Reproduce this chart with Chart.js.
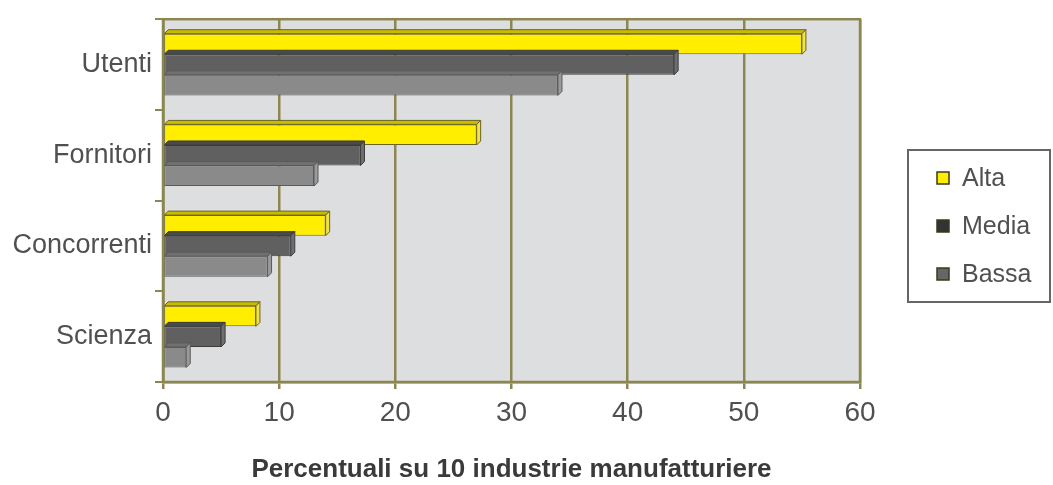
<!DOCTYPE html>
<html>
<head>
<meta charset="utf-8">
<script src="https://cdn.jsdelivr.net/npm/chart.js@4"></script>
<style>
  html, body { margin: 0; padding: 0; background: #ffffff; }
  #wrap { width: 1053px; height: 485px; position: relative; }
</style>
</head>
<body>
<div id="wrap"><canvas id="chart" width="1053" height="485"></canvas></div>
<script>
const categories = ['Utenti', 'Fornitori', 'Concorrenti', 'Scienza'];
const alta = [55, 27, 14, 8];
const media = [44, 17, 11, 5];
const bassa = [34, 13, 9, 2];
const xTicks = [0, 10, 20, 30, 40, 50, 60];

const olive = '#8c8650';
const textColor = '#505050';
const fontFamily = '"Liberation Sans", Arial, sans-serif';

// background of the plot area
const plotBg = {
    id: 'plotBg',
    beforeDraw(chart) {
        const { ctx, chartArea: a } = chart;
        ctx.save();
        ctx.fillStyle = '#dcdee0';
        ctx.fillRect(a.left, a.top, a.right - a.left, a.bottom - a.top);
        ctx.restore();
    },
    afterDraw(chart) {
        const { ctx, chartArea: a } = chart;
        ctx.save();
        ctx.strokeStyle = olive;
        ctx.lineWidth = 2.5;
        ctx.strokeRect(a.left, a.top, a.right - a.left, a.bottom - a.top);
        ctx.restore();
    }
};

// fake 3d depth on each bar
const bar3d = {
    id: 'bar3d',
    afterDatasetsDraw(chart) {
        const ctx = chart.ctx;
        const d = 4;
        chart.data.datasets.forEach((ds, i) => {
            const meta = chart.getDatasetMeta(i);
            meta.data.forEach(el => {
                const h = el.height;
                const top = el.y - h / 2, bot = el.y + h / 2;
                ctx.save();
                ctx.strokeStyle = ds.borderColor;
                ctx.lineWidth = 1;
                ctx.fillStyle = ds.topColor;
                ctx.beginPath();
                ctx.moveTo(el.base, top);
                ctx.lineTo(el.base + d, top - d);
                ctx.lineTo(el.x + d, top - d);
                ctx.lineTo(el.x, top);
                ctx.closePath();
                ctx.fill(); ctx.stroke();
                ctx.fillStyle = ds.sideColor;
                ctx.beginPath();
                ctx.moveTo(el.x, top);
                ctx.lineTo(el.x + d, top - d);
                ctx.lineTo(el.x + d, bot - d);
                ctx.lineTo(el.x, bot);
                ctx.closePath();
                ctx.fill(); ctx.stroke();
                ctx.restore();
            });
        });
    }
};

// boxed legend on the right
const boxLegend = {
    id: 'boxLegend',
    afterDraw(chart) {
        const ctx = chart.ctx;
        const x = 908, y = 150, w = 142, h = 152;
        ctx.save();
        ctx.fillStyle = '#ffffff';
        ctx.fillRect(x, y, w, h);
        ctx.strokeStyle = '#666666';
        ctx.lineWidth = 2;
        ctx.strokeRect(x, y, w, h);
        ctx.font = '25px ' + fontFamily;
        ctx.textBaseline = 'middle';
        chart.data.datasets.forEach((ds, i) => {
            const cy = 178 + i * 48;
            ctx.fillStyle = ds.legendColor;
            ctx.fillRect(937, cy - 6, 12, 12);
            ctx.strokeStyle = '#3b3a1c';
            ctx.lineWidth = 1.5;
            ctx.strokeRect(937, cy - 6, 12, 12);
            ctx.fillStyle = textColor;
            ctx.fillText(ds.label, 962, cy + 1);
        });
        ctx.restore();
    }
};

new Chart(document.getElementById('chart'), {
    type: 'bar',
    data: {
        labels: categories,
        datasets: [
            { label: 'Alta', data: alta, backgroundColor: '#ffee00', borderColor: '#6b6420',
              topColor: '#c9bb00', sideColor: '#f2e24a', legendColor: '#ffee00' },
            { label: 'Media', data: media, backgroundColor: '#606060', borderColor: '#3c3c3c',
              topColor: '#4a4a4a', sideColor: '#6e6e6e', legendColor: '#333333' },
            { label: 'Bassa', data: bassa, backgroundColor: '#8a8a8a', borderColor: '#5a5a5a',
              topColor: '#707070', sideColor: '#9a9a9a', legendColor: '#666666' }
        ].map(ds => Object.assign(ds, {
            borderWidth: 1,
            borderSkipped: false,
            categoryPercentage: 0.68,
            barPercentage: 1.0
        }))
    },
    options: {
        indexAxis: 'y',
        responsive: false,
        animation: false,
        layout: { padding: { top: 12, right: 193, left: 0, bottom: 0 } },
        plugins: {
            legend: { display: false },
            tooltip: { enabled: false }
        },
        scales: {
            x: {
                min: 0,
                max: 60,
                afterBuildTicks: axis => { axis.ticks = xTicks.map(v => ({ value: v })); },
                afterFit: axis => { axis.height = 103; },
                grid: { color: olive, lineWidth: 2.5, tickLength: 7, tickColor: olive },
                border: { color: olive, width: 2.5 },
                ticks: {
                    color: textColor,
                    padding: 7,
                    maxRotation: 0,
                    font: { size: 28, family: fontFamily }
                },
                title: {
                    display: true,
                    text: 'Percentuali su 10 industrie manufatturiere',
                    color: '#3a3a3a',
                    padding: { top: 10, bottom: 0 },
                    font: { size: 26, weight: 'bold', family: fontFamily }
                }
            },
            y: {
                afterFit: axis => { axis.width = 163; },
                grid: { display: true, drawOnChartArea: false, offset: true, color: olive, tickColor: olive, tickLength: 8, lineWidth: 2 },
                border: { color: olive, width: 2.5 },
                ticks: {
                    color: textColor,
                    padding: 3,
                    font: { size: 27, family: fontFamily }
                }
            }
        }
    },
    plugins: [plotBg, bar3d, boxLegend]
});
</script>
</body>
</html>
